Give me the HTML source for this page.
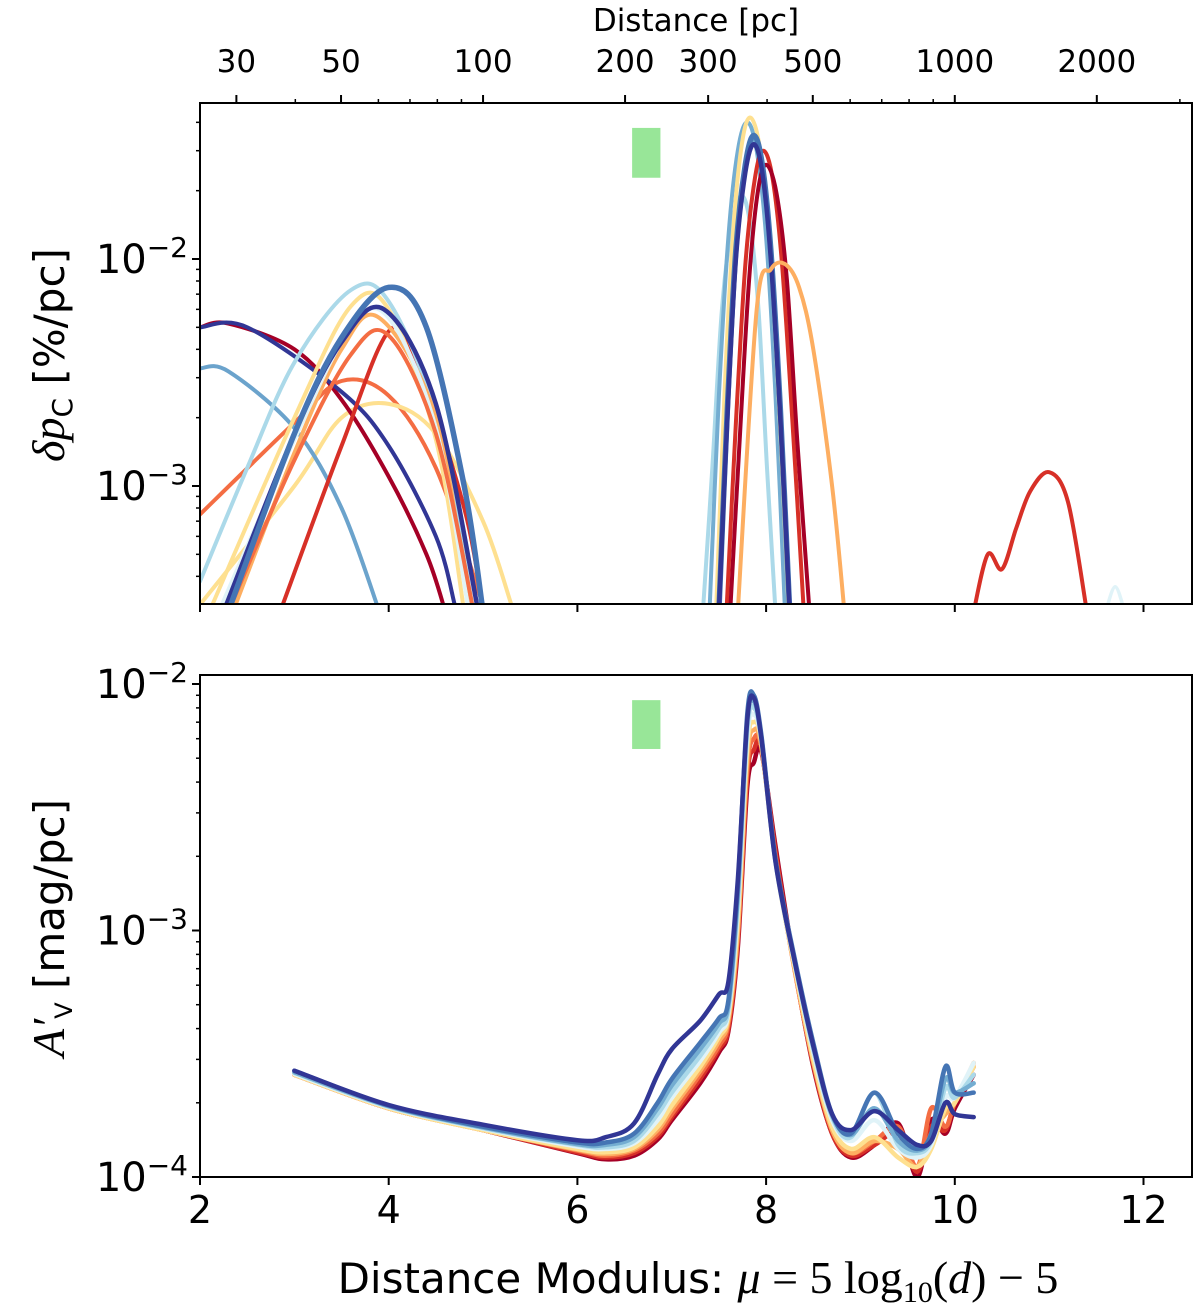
<!DOCTYPE html>
<html><head><meta charset="utf-8">
<style>
html,body{margin:0;padding:0;background:#fff;}
svg{display:block;font-family:"DejaVu Sans","Liberation Sans",sans-serif;}
</style></head>
<body>
<svg id="chart" width="1200" height="1315" viewBox="0 0 1200 1315" xmlns="http://www.w3.org/2000/svg">
<defs>
<clipPath id="clipTop"><rect x="200" y="103" width="992" height="501"/></clipPath>
<clipPath id="clipBot"><rect x="200" y="675" width="992" height="502"/></clipPath>
</defs>
<g id="topLines" clip-path="url(#clipTop)"></g>
<g id="botLines" clip-path="url(#clipBot)"></g>
<g id="axes"></g>
</svg>
<script>
// ---------- data ----------
const xTicks = [2,4,6,8,10,12];
const distTicks = [30,50,100,200,300,500,1000,2000];
const distMinor = [40,60,70,80,90,400,600,700,800,900,3000];
const greenBandMu = [6.58, 6.88];
const greenBandTop = [0.0228, 0.0378];
const greenBandBot = [0.00545, 0.0086];

// top panel series (polarization gradient)
const topColors = ["#f46d43","#fee090","#a50026","#313695","#6ba3cc","#d73027","#abd9e9","#fdae61","#fee090","#e0f3f8","#f46d43","#313695","#4575b4",
  "#abd9e9","#74add1","#fee090","#d73027","#a50026","#4575b4","#313695","#fdae61","#d73027","#e0f3f8"];
const topWidths = [4,4,4,4,4,4,4,4,4,4,4,4.5,5.5, 4,4,4,4,4,5.5,4.5,4,4,3.5];
const topMu = [
 [2,3,3.5,4,4.5,5],
 [2,3,3.5,4,4.5,5,5.3],
 [2,2.3,3,3.5,4,4.4,4.6],
 [2,2.5,3.5,4,4.5,4.7],
 [2,2.3,3,3.5,3.9],
 [2.85,3.5,4,4.3,4.8,5],
 [2,2.5,3,3.6,4,4.5,4.9],
 [2.35,3,3.5,3.9,4.5,4.85],
 [2.1,3,3.6,4,4.5,4.8],
 [2.2,3,3.6,4,4.5,4.85],
 [2.3,3,3.6,4,4.5,4.9],
 [2.25,3,3.5,3.95,4.5,4.95],
 [2.3,3,3.5,4,4.4,4.8,5.0],
 [7.33,7.43,7.53,7.64,7.74,7.83,7.92,8.01,8.1],
 [7.4,7.5,7.6,7.7,7.8,7.9,8.0,8.1,8.2],
 [7.47,7.56,7.65,7.74,7.83,7.93,8.03,8.13,8.24],
 [7.58,7.68,7.78,7.88,7.97,8.07,8.17,8.28,8.4],
 [7.62,7.72,7.82,7.91,8.0,8.11,8.22,8.33,8.46],
 [7.5,7.59,7.68,7.78,7.87,7.96,8.05,8.15,8.25],
 [7.5,7.59,7.68,7.78,7.87,7.96,8.05,8.15,8.25],
 [7.7,7.9,8.05,8.2,8.35,8.5,8.7,8.83],
 [10.2,10.35,10.5,10.65,10.8,11.0,11.2,11.4],
 [11.6,11.7,11.8]
];
const topVal = [
 [7.5e-4,1.9e-3,2.9e-3,2.5e-3,1.2e-3,3e-4],
 [3e-4,1.0e-3,2.0e-3,2.3e-3,1.7e-3,7e-4,3e-4],
 [5e-3,5.2e-3,4e-3,2.4e-3,1.1e-3,5e-4,2.8e-4],
 [5e-3,5e-3,2.6e-3,1.5e-3,6e-4,3e-4],
 [3.3e-3,3.2e-3,1.8e-3,8e-4,2.8e-4],
 [2.8e-4,1.5e-3,4.8e-3,3.5e-3,8e-4,2.8e-4],
 [3.8e-4,1.2e-3,3.5e-3,7.3e-3,6.5e-3,2e-3,2.8e-4],
 [2.8e-4,1.4e-3,4e-3,5.5e-3,2e-3,2.8e-4],
 [2.8e-4,2e-3,6.2e-3,6e-3,1.6e-3,2.8e-4],
 [2.8e-4,1.6e-3,5.0e-3,5.5e-3,1.8e-3,2.8e-4],
 [2.8e-4,1.3e-3,3.8e-3,4.6e-3,1.7e-3,2.8e-4],
 [2.8e-4,1.7e-3,4.3e-3,6e-3,2.3e-3,2.8e-4],
 [2.8e-4,1.7e-3,4.5e-3,7.5e-3,5e-3,1e-3,2.8e-4],
 [2.8e-4,1.2e-3,5.9e-3,1.43e-2,1.9e-2,1.43e-2,5.9e-3,1.2e-3,2.8e-4],
 [2.8e-4,2.5e-3,1.25e-2,3.0e-2,4.0e-2,3.0e-2,1.25e-2,2.5e-3,2.8e-4],
 [2.8e-4,2.6e-3,1.3e-2,3.15e-2,4.2e-2,3.15e-2,1.3e-2,2.6e-3,2.8e-4],
 [2.8e-4,1.9e-3,9.4e-3,2.25e-2,3.0e-2,2.25e-2,9.4e-3,1.9e-3,2.8e-4],
 [2.8e-4,1.6e-3,8.1e-3,1.95e-2,2.6e-2,1.95e-2,8.1e-3,1.6e-3,2.8e-4],
 [2.8e-4,2.2e-3,1.1e-2,2.6e-2,3.5e-2,2.6e-2,1.1e-2,2.2e-3,2.8e-4],
 [2.8e-4,2.0e-3,1.0e-2,2.4e-2,3.2e-2,2.4e-2,1.0e-2,2.0e-3,2.8e-4],
 [2.8e-4,6e-3,9.0e-3,9.5e-3,7.5e-3,4e-3,1e-3,2.8e-4],
 [2.8e-4,5e-4,4.3e-4,6.5e-4,9.5e-4,1.15e-3,8.5e-4,2.8e-4],
 [2.8e-4,3.6e-4,2.8e-4]
];

// bottom panel series (extinction gradient)
const botMu = [3,4,5,6,6.3,6.6,6.85,7.0,7.3,7.5,7.6,7.7,7.8,7.87,7.95,8.1,8.3,8.5,8.7,8.9,9.15,9.4,9.6,9.75,9.9,10.0,10.2];
const botColors = ["#a50026","#d73027","#f46d43","#fdae61","#fee090","#e0f3f8","#abd9e9","#74add1","#4575b4","#313695"];
const botVal = [
 [2.6e-4,1.9e-4,1.55e-4,1.25e-4,1.18e-4,1.22e-4,1.42e-4,1.7e-4,2.4e-4,3.2e-4,3.9e-4,8.5e-4,3.8e-3,4.8e-3,5.3e-3,2.2e-3,7.2e-4,2.8e-4,1.5e-4,1.2e-4,1.35e-4,1.65e-4,1.0e-4,1.7e-4,1.5e-4,1.9e-4,2.6e-4],
 [2.6e-4,1.9e-4,1.55e-4,1.26e-4,1.2e-4,1.25e-4,1.46e-4,1.75e-4,2.5e-4,3.3e-4,4.0e-4,9e-4,4.2e-3,5.4e-3,5.5e-3,2.1e-3,7.1e-4,2.85e-4,1.5e-4,1.22e-4,1.35e-4,1.5e-4,1.05e-4,1.6e-4,1.55e-4,2.0e-4,2.8e-4],
 [2.6e-4,1.9e-4,1.55e-4,1.28e-4,1.22e-4,1.28e-4,1.5e-4,1.8e-4,2.6e-4,3.4e-4,4.2e-4,9.5e-4,4.5e-3,6.0e-3,5.5e-3,2.0e-3,7.0e-4,2.9e-4,1.55e-4,1.25e-4,1.4e-4,1.6e-4,1.1e-4,1.9e-4,1.6e-4,2.0e-4,2.9e-4],
 [2.6e-4,1.9e-4,1.55e-4,1.29e-4,1.24e-4,1.3e-4,1.55e-4,1.88e-4,2.7e-4,3.55e-4,4.35e-4,1.0e-3,5.0e-3,6.5e-3,5.6e-3,1.95e-3,7.1e-4,2.95e-4,1.55e-4,1.25e-4,1.4e-4,1.3e-4,1.1e-4,1.5e-4,1.8e-4,2.0e-4,2.9e-4],
 [2.6e-4,1.9e-4,1.55e-4,1.3e-4,1.26e-4,1.32e-4,1.6e-4,1.95e-4,2.8e-4,3.7e-4,4.5e-4,1.1e-3,5.5e-3,7.0e-3,5.8e-3,1.9e-3,7.2e-4,3.0e-4,1.6e-4,1.3e-4,1.45e-4,1.2e-4,1.1e-4,1.3e-4,1.9e-4,2.0e-4,2.8e-4],
 [2.62e-4,1.92e-4,1.57e-4,1.33e-4,1.3e-4,1.37e-4,1.7e-4,2.1e-4,2.95e-4,3.85e-4,4.65e-4,1.2e-3,6.0e-3,7.5e-3,5.9e-3,1.9e-3,7.4e-4,3.2e-4,1.7e-4,1.4e-4,1.7e-4,1.3e-4,1.2e-4,1.35e-4,2.1e-4,2.1e-4,2.9e-4],
 [2.65e-4,1.93e-4,1.58e-4,1.35e-4,1.32e-4,1.4e-4,1.8e-4,2.2e-4,3.1e-4,4.0e-4,4.8e-4,1.3e-3,6.5e-3,8.0e-3,6.0e-3,1.9e-3,7.5e-4,3.3e-4,1.75e-4,1.45e-4,2.2e-4,1.35e-4,1.25e-4,1.4e-4,2.3e-4,2.1e-4,2.6e-4],
 [2.66e-4,1.94e-4,1.59e-4,1.36e-4,1.35e-4,1.45e-4,1.9e-4,2.35e-4,3.3e-4,4.2e-4,5.0e-4,1.4e-3,7.0e-3,8.5e-3,6.1e-3,1.92e-3,7.6e-4,3.4e-4,1.78e-4,1.48e-4,1.9e-4,1.4e-4,1.28e-4,1.45e-4,2.5e-4,2.2e-4,2.4e-4],
 [2.7e-4,1.95e-4,1.6e-4,1.38e-4,1.38e-4,1.5e-4,2.0e-4,2.5e-4,3.5e-4,4.4e-4,5.2e-4,1.5e-3,7.5e-3,9.0e-3,6.2e-3,1.95e-3,7.8e-4,3.5e-4,1.8e-4,1.5e-4,2.2e-4,1.5e-4,1.3e-4,1.5e-4,2.8e-4,2.2e-4,2.2e-4],
 [2.7e-4,1.96e-4,1.63e-4,1.41e-4,1.45e-4,1.65e-4,2.6e-4,3.3e-4,4.3e-4,5.5e-4,6.2e-4,1.6e-3,7.1e-3,8.8e-3,6.0e-3,1.9e-3,7.6e-4,3.4e-4,1.8e-4,1.55e-4,1.85e-4,1.55e-4,1.35e-4,1.4e-4,2.0e-4,1.8e-4,1.75e-4]
];

// ---------- scales ----------
const L = 200, R = 1192;
const TT = 103, TB = 604, BT = 675, BB = 1177;
function X(mu){ return L + (mu - 2) * 94.35; }
function Yt(v){ return 259 - (Math.log10(v) + 2) * 227; }
function Yb(v){ return 684 - (Math.log10(v) + 2) * 246.5; }
function muOfDist(d){ return 5 * Math.log10(d) - 5; }

const NS = "http://www.w3.org/2000/svg";
function mk(tag, attrs, parent){
  const e = document.createElementNS(NS, tag);
  for (const k in attrs) e.setAttribute(k, attrs[k]);
  parent.appendChild(e);
  return e;
}
function smoothPath(pts){
  let d = "M" + pts[0][0].toFixed(1) + "," + pts[0][1].toFixed(1);
  for (let i = 0; i < pts.length - 1; i++){
    const p0 = pts[i-1] || pts[i], p1 = pts[i], p2 = pts[i+1], p3 = pts[i+2] || p2;
    const c1 = [p1[0] + (p2[0]-p0[0])/6, p1[1] + (p2[1]-p0[1])/6];
    const c2 = [p2[0] - (p3[0]-p1[0])/6, p2[1] - (p3[1]-p1[1])/6];
    d += " C" + c1[0].toFixed(1)+","+c1[1].toFixed(1)+" "+c2[0].toFixed(1)+","+c2[1].toFixed(1)+" "+p2[0].toFixed(1)+","+p2[1].toFixed(1);
  }
  return d;
}

const topG = document.getElementById("topLines");
const botG = document.getElementById("botLines");
const axG = document.getElementById("axes");

// green bands
const gb1 = mk("rect", {x: X(greenBandMu[0]), y: Yt(greenBandTop[1]), width: X(greenBandMu[1]) - X(greenBandMu[0]), height: Yt(greenBandTop[0]) - Yt(greenBandTop[1]), fill: "#98e698"}, topG);


const gb2 = mk("rect", {x: X(greenBandMu[0]), y: Yb(greenBandBot[1]), width: X(greenBandMu[1]) - X(greenBandMu[0]), height: Yb(greenBandBot[0]) - Yb(greenBandBot[1]), fill: "#98e698"}, botG);



// top series
for (let i = 0; i < topMu.length; i++){
  const pts = topMu[i].map((m, j) => [X(m), Yt(topVal[i][j])]);
  const p = mk("path", {d: smoothPath(pts), fill: "none", stroke: topColors[i], "stroke-width": topWidths[i], "stroke-linecap": "round"}, topG);
  
  
}
// bottom series
for (let i = 0; i < botVal.length; i++){
  const pts = botMu.map((m, j) => [X(m), Yb(botVal[i][j])]);
  const p = mk("path", {d: smoothPath(pts), fill: "none", stroke: botColors[i], "stroke-width": 4.5, "stroke-linecap": "round", "stroke-linejoin": "round"}, botG);
  
  
}

// frames
const f1 = mk("rect", {x: L, y: TT, width: R-L, height: TB-TT, fill: "none", stroke: "#000", "stroke-width": 2}, axG);


const f2 = mk("rect", {x: L, y: BT, width: R-L, height: BB-BT, fill: "none", stroke: "#000", "stroke-width": 2}, axG);



function txt(x, y, s, size, anchor, name){
  const t = mk("text", {x: x, y: y, "font-size": size, "text-anchor": anchor || "middle", fill: "#000"}, axG);
  t.textContent = s;
  
  
  return t;
}

// x ticks
xTicks.forEach(m => {
  const x = X(m);
  mk("line", {x1: x, x2: x, y1: TB, y2: TB+8, stroke: "#000", "stroke-width": 2}, axG);
  mk("line", {x1: x, x2: x, y1: BB, y2: BB+8, stroke: "#000", "stroke-width": 2}, axG);
  txt(x, 1223, String(m), 38, "middle", "x-tick-label");
});
// top distance axis
distTicks.forEach(d => {
  const x = X(muOfDist(d));
  mk("line", {x1: x, x2: x, y1: TT, y2: TT-8, stroke: "#000", "stroke-width": 2}, axG);
  txt(x, 72, String(d), 31, "middle", "distance-tick-label");
});
distMinor.forEach(d => {
  const x = X(muOfDist(d));
  if (x < R) mk("line", {x1: x, x2: x, y1: TT, y2: TT-4, stroke: "#000", "stroke-width": 1.5}, axG);
});
txt(696, 31, "Distance [pc]", 31, "middle", "top-axis-title");

// y ticks
function logTicks(Y, lo, hi, top, bot){
  for (let e = lo; e <= hi; e++){
    for (let k = 1; k <= 9; k++){
      const v = k * Math.pow(10, e);
      const y = Y(v);
      if (y < top - 0.5 || y > bot + 0.5) continue;
      mk("line", {x1: L, x2: L - (k === 1 ? 8 : 4), y1: y, y2: y, stroke: "#000", "stroke-width": k === 1 ? 2 : 1.5}, axG);
    }
  }
}
logTicks(Yt, -4, -2, TT, TB);
logTicks(Yb, -4, -2, BT, BB);

function powLabel(y, exp, name){
  const t = mk("text", {x: 188, y: y + 14, "font-size": 40, "text-anchor": "end", fill: "#000"}, axG);
  
  
  const a = document.createElementNS(NS, "tspan"); a.textContent = "10"; t.appendChild(a);
  const b = document.createElementNS(NS, "tspan"); b.setAttribute("dy", "-16"); b.setAttribute("font-size", "28"); b.textContent = "\u2212" + exp; t.appendChild(b);
}
powLabel(Yt(1e-2), 2, "y-tick-label-top");
powLabel(Yt(1e-3), 3, "y-tick-label-top");
powLabel(Yb(1e-2), 2, "y-tick-label-bottom");
powLabel(Yb(1e-3), 3, "y-tick-label-bottom");
powLabel(Yb(1e-4), 4, "y-tick-label-bottom");

// y titles
const yt1 = mk("text", {transform: "translate(64,355) rotate(-90)", "font-size": 42, "text-anchor": "middle", fill: "#000"}, axG);


yt1.innerHTML = '<tspan font-family="Liberation Serif" font-style="italic" font-size="46">δp</tspan><tspan font-size="28" dy="8">C</tspan><tspan dy="-8"> [%/pc]</tspan>';
const yt2 = mk("text", {transform: "translate(64,928) rotate(-90)", "font-size": 42, "text-anchor": "middle", fill: "#000"}, axG);


yt2.innerHTML = '<tspan font-family="Liberation Serif" font-style="italic" font-size="46">A′</tspan><tspan font-size="24" dy="8">V</tspan><tspan dy="-8"> [mag/pc]</tspan>';

// x title
const xt = mk("text", {x: 698, y: 1293, "font-size": 42, "text-anchor": "middle", fill: "#000"}, axG);


xt.innerHTML = 'Distance Modulus: <tspan font-family="Liberation Serif" font-style="italic" font-size="46">μ</tspan><tspan font-family="Liberation Serif" font-size="46"> = 5 log</tspan><tspan font-family="Liberation Serif" font-size="30" dy="9">10</tspan><tspan font-family="Liberation Serif" font-size="46" dy="-9">(<tspan font-style="italic">d</tspan>) − 5</tspan>';
</script>
</body></html>
